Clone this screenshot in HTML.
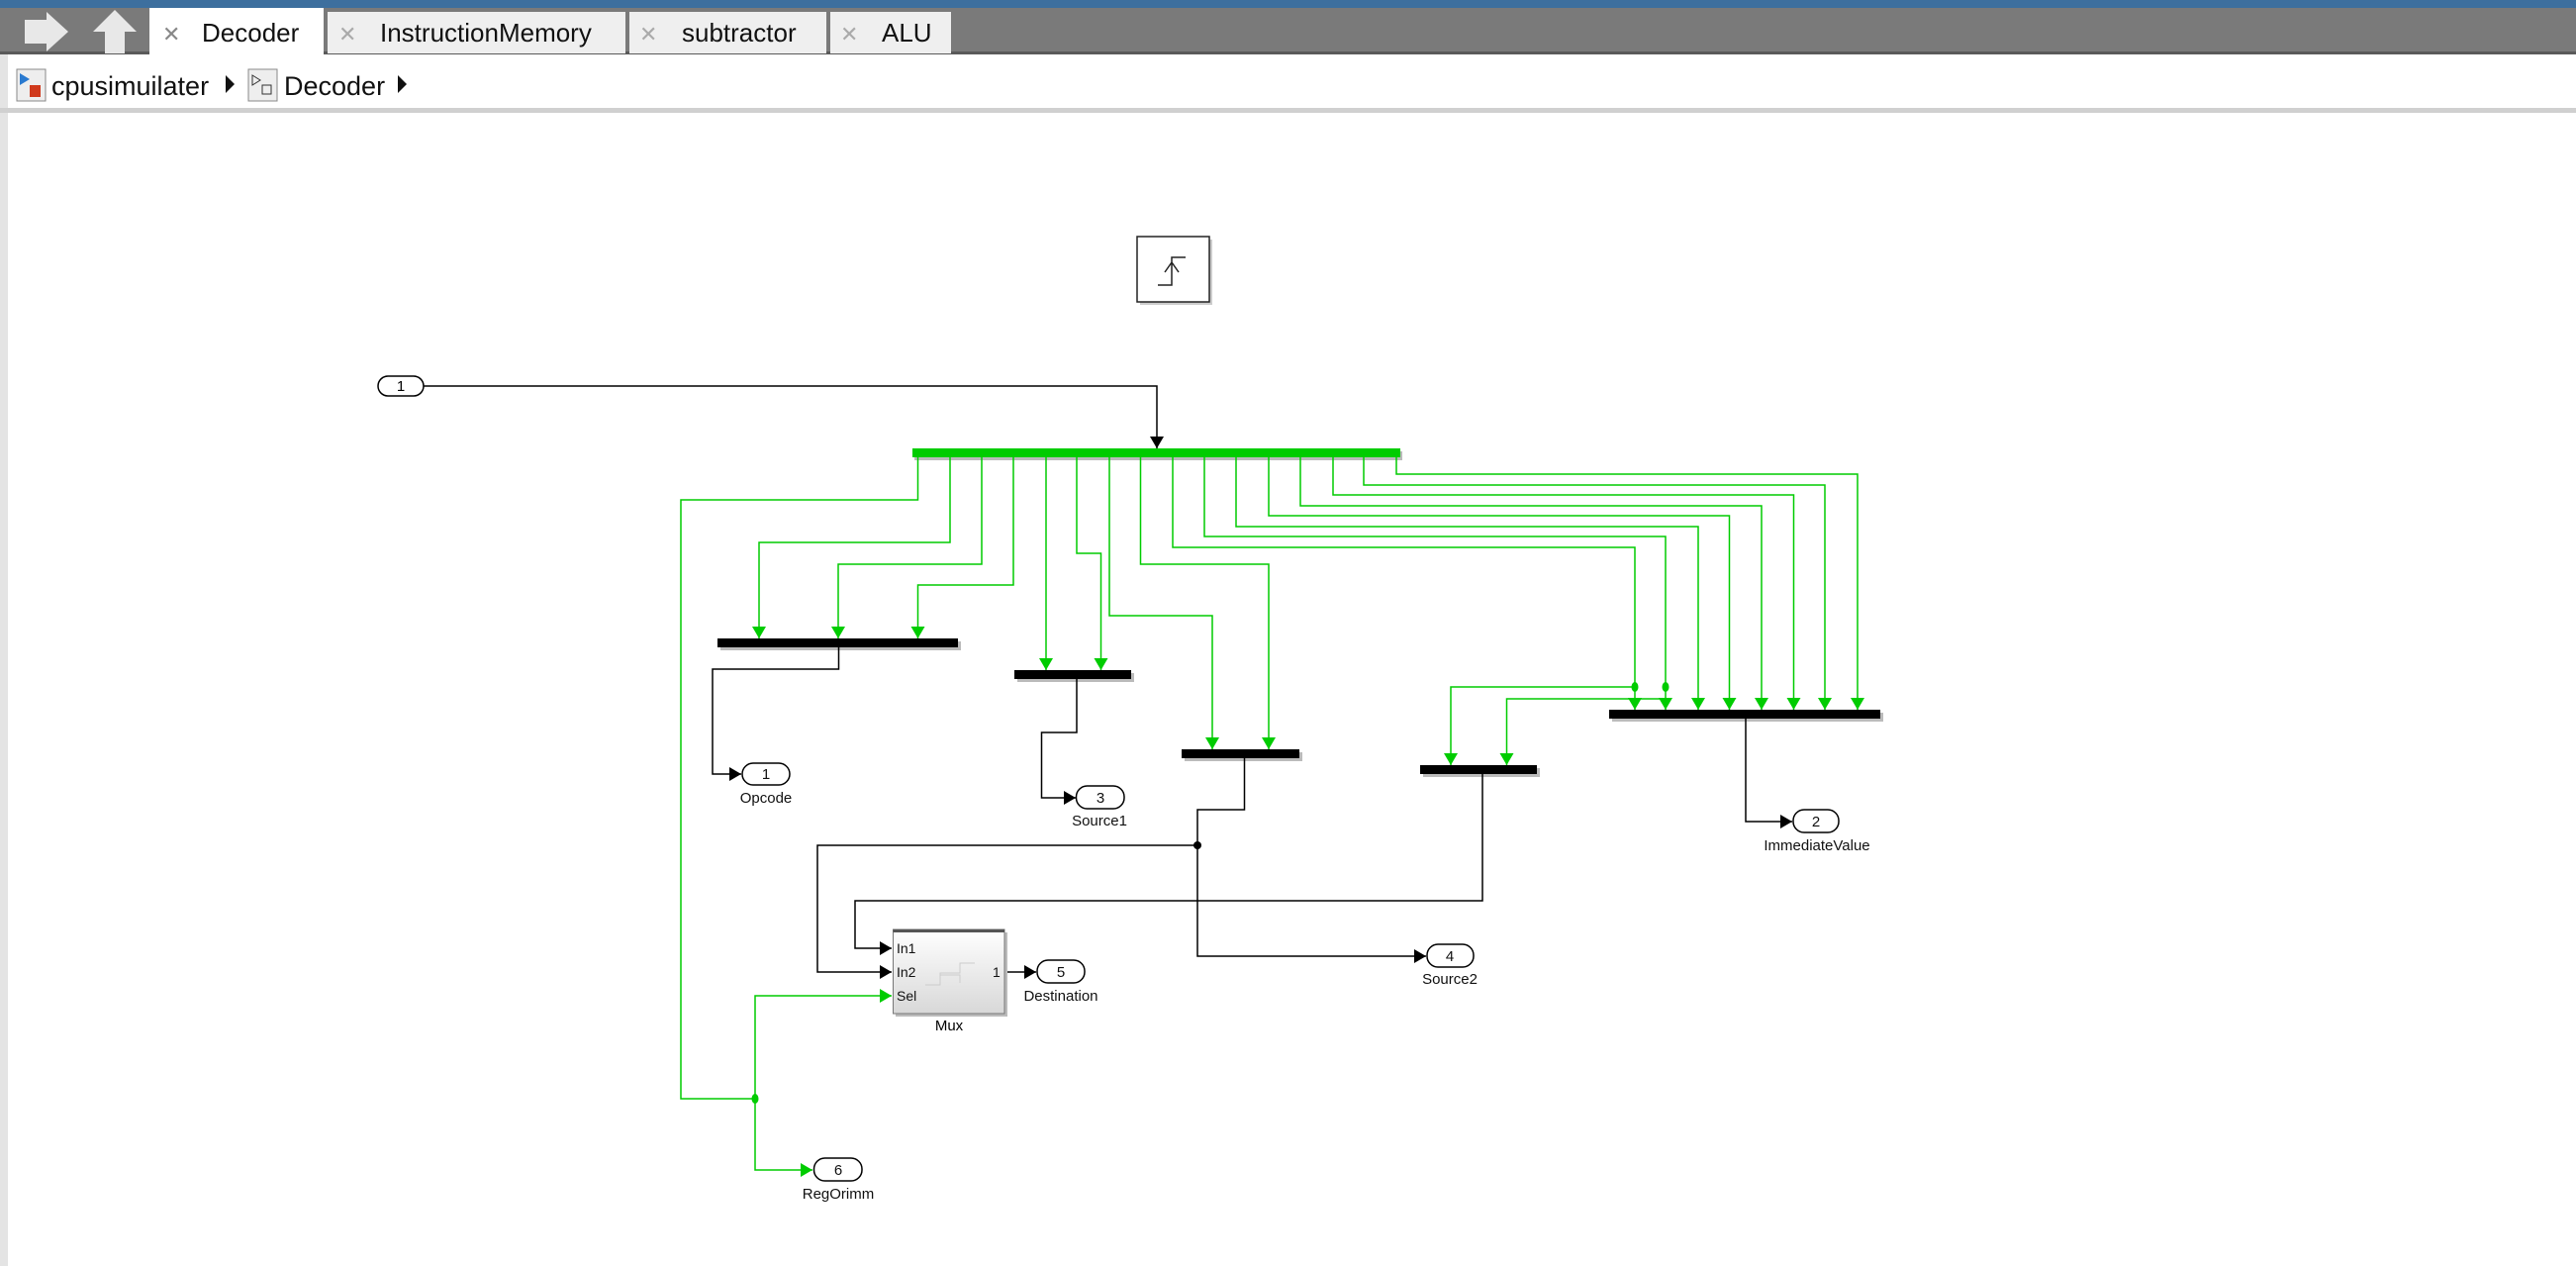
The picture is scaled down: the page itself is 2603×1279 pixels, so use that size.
<!DOCTYPE html>
<html><head><meta charset="utf-8"><style>
html,body{margin:0;padding:0;width:2603px;height:1279px;overflow:hidden;background:#fff;font-family:"Liberation Sans",sans-serif}
</style></head><body>
<svg width="2603" height="1279" viewBox="0 0 2603 1279" xmlns="http://www.w3.org/2000/svg" font-family="Liberation Sans, sans-serif">
<defs>
<marker id="ag" markerWidth="12" markerHeight="14" refX="12" refY="7" orient="auto" markerUnits="userSpaceOnUse"><path d="M0,0 L12,7 L0,14 z" fill="#00cc00"/></marker>
<marker id="ab" markerWidth="12" markerHeight="14" refX="12" refY="7" orient="auto" markerUnits="userSpaceOnUse"><path d="M0,0 L12,7 L0,14 z" fill="#000"/></marker>
<linearGradient id="mg" x1="0" y1="0" x2="0" y2="1"><stop offset="0" stop-color="#fff"/><stop offset="1" stop-color="#d8d8d8"/></linearGradient>
</defs>
<!-- header -->
<rect x="0" y="0" width="2603" height="8" fill="#3d6f9e"/>
<rect x="0" y="8" width="2603" height="47" fill="#7a7a7a"/>
<rect x="0" y="52" width="2603" height="3" fill="#5a5a5a"/>
<path d="M25,20 h22 v-8 l22,20 l-22,20 v-8 h-22z" fill="#e8e8e8"/>
<path d="M116,10 l22,22 h-12 v22 h-20 v-22 h-12z" fill="#e8e8e8"/>
<rect x="151" y="8" width="176" height="48" fill="#fff"/>
<rect x="331" y="12" width="301" height="42" fill="#efefef"/>
<rect x="636" y="12" width="199" height="42" fill="#efefef"/>
<rect x="839" y="12" width="122" height="42" fill="#efefef"/>
<g font-size="26" fill="#111">
<text x="164" y="42" fill="#888" font-size="22">✕</text><text x="204" y="42">Decoder</text>
<text x="342" y="42" fill="#aaa" font-size="22">✕</text><text x="384" y="42">InstructionMemory</text>
<text x="646" y="42" fill="#aaa" font-size="22">✕</text><text x="689" y="42">subtractor</text>
<text x="849" y="42" fill="#aaa" font-size="22">✕</text><text x="891" y="42">ALU</text>
</g>
<rect x="0" y="55" width="8" height="1224" fill="#e4e4e4"/>
<rect x="0" y="109" width="2603" height="5" fill="#d0d0d0"/>
<rect x="17" y="70" width="29" height="32" fill="#eee" stroke="#888"/>
<path d="M20,74 l10,6 l-10,6z" fill="#2a7ad0"/><rect x="30" y="86" width="11" height="12" fill="#d0391c"/>
<text x="52" y="96" font-size="27" fill="#111">cpusimuilater</text>
<path d="M228,76 l9,9 l-9,9z" fill="#111"/>
<rect x="251" y="70" width="29" height="32" fill="#eee" stroke="#888"/>
<path d="M255,76 l8,5 l-8,5z" fill="none" stroke="#333"/><rect x="265" y="86" width="9" height="9" fill="none" stroke="#333"/>
<text x="287" y="96" font-size="27" fill="#111">Decoder</text>
<path d="M402,76 l9,9 l-9,9z" fill="#111"/>

<!-- trigger block -->
<rect x="1152" y="242" width="73" height="66" fill="#ccc"/>
<rect x="1149" y="239" width="73" height="66" fill="#fff" stroke="#222" stroke-width="1.5"/>
<path d="M1170,288 h14 v-28 h14 M1177,275 l7,-10 l7,10" fill="none" stroke="#222" stroke-width="1.5"/>

<!-- inport 1 -->
<rect x="382" y="380" width="46" height="20" rx="10" fill="#fff" stroke="#000" stroke-width="1.5"/>
<text x="405" y="395" font-size="15" text-anchor="middle">1</text>
<path d="M428,390 H1169 V453" fill="none" stroke="#000" stroke-width="1.5" marker-end="url(#ab)"/>

<!-- green bus -->
<rect x="924" y="456" width="493" height="9" fill="#bbb"/>
<rect x="922" y="453" width="493" height="9" fill="#00cc00"/>

<g fill="none" stroke="#00cc00" stroke-width="1.5">
<path d="M927.5,462 V505 H688 V1110 H763"/>
<path d="M763,1110 V1006 H901" marker-end="url(#ag)"/>
<path d="M763,1110 V1182 H821" marker-end="url(#ag)"/>
<path d="M960,462 V548 H767 V645" marker-end="url(#ag)"/>
<path d="M992,462 V570 H847 V645" marker-end="url(#ag)"/>
<path d="M1024,462 V591 H927.5 V645" marker-end="url(#ag)"/>
<path d="M1057,462 V677" marker-end="url(#ag)"/>
<path d="M1088,462 V559 H1112.5 V677" marker-end="url(#ag)"/>
<path d="M1121,462 V622 H1225 V757" marker-end="url(#ag)"/>
<path d="M1152.5,462 V570 H1282 V757" marker-end="url(#ag)"/>
<path d="M1185,462 V553 H1652 V717" marker-end="url(#ag)"/>
<path d="M1217,462 V542 H1683 V717" marker-end="url(#ag)"/>
<path d="M1249,462 V532 H1716 V717" marker-end="url(#ag)"/>
<path d="M1282,462 V521 H1747.5 V717" marker-end="url(#ag)"/>
<path d="M1314,462 V511 H1780 V717" marker-end="url(#ag)"/>
<path d="M1347,462 V500 H1812.5 V717" marker-end="url(#ag)"/>
<path d="M1378,462 V490 H1844 V717" marker-end="url(#ag)"/>
<path d="M1411,462 V479 H1877 V717" marker-end="url(#ag)"/>
<path d="M1652,694 H1466 V773" marker-end="url(#ag)"/>
<path d="M1683,706 H1522.5 V773" marker-end="url(#ag)"/>
</g>
<g fill="#00cc00"><ellipse cx="1652" cy="694" rx="3.5" ry="5"/><ellipse cx="1683" cy="694" rx="3.5" ry="5"/><ellipse cx="763" cy="1110" rx="3.5" ry="5"/></g>

<!-- black bars -->
<g fill="#bbb">
<rect x="728" y="648" width="243" height="9"/><rect x="1028" y="680" width="118" height="9"/>
<rect x="1197" y="760" width="119" height="9"/><rect x="1438" y="776" width="118" height="9"/>
<rect x="1629" y="720" width="274" height="9"/></g>
<g fill="#000">
<rect x="725" y="645" width="243" height="9"/><rect x="1025" y="677" width="118" height="9"/>
<rect x="1194" y="757" width="119" height="9"/><rect x="1435" y="773" width="118" height="9"/>
<rect x="1626" y="717" width="274" height="9"/></g>

<g fill="none" stroke="#000" stroke-width="1.5">
<path d="M847.5,654 V676 H720 V782 H749" marker-end="url(#ab)"/>
<path d="M1088,686 V740 H1052.5 V806 H1087" marker-end="url(#ab)"/>
<path d="M1257.5,766 V818 H1210 V966 H1441" marker-end="url(#ab)"/>
<path d="M1210,854 H826 V982 H901" marker-end="url(#ab)"/>
<path d="M1498,782 V910 H864 V958 H901" marker-end="url(#ab)"/>
<path d="M1764,726 V830 H1811" marker-end="url(#ab)"/>
<path d="M1015,982 H1047" marker-end="url(#ab)"/>
</g>
<circle cx="1210" cy="854" r="4" fill="#000"/>

<!-- mux -->
<rect x="905" y="942" width="113" height="85" fill="#bbb"/>
<rect x="902.5" y="939" width="112.5" height="85" fill="url(#mg)" stroke="#777" stroke-width="1"/>
<rect x="902.5" y="939" width="112.5" height="3" fill="#555"/>
<g font-size="14" fill="#111"><text x="906" y="963">In1</text><text x="906" y="987">In2</text><text x="906" y="1011">Sel</text><text x="1003" y="987">1</text></g>
<path d="M935,995 h15 v-12 h20 v-10 h15 M950,985 h20 v8" fill="none" stroke="#ccc"/>
<text x="959" y="1041" font-size="15" text-anchor="middle">Mux</text>

<!-- outports -->
<g fill="#fff" stroke="#000" stroke-width="1.5">
<rect x="750" y="771" width="48" height="22" rx="11"/>
<rect x="1087.5" y="794" width="48.5" height="23" rx="11"/>
<rect x="1812" y="818" width="46" height="23" rx="11"/>
<rect x="1442" y="954" width="47" height="23" rx="11"/>
<rect x="1048" y="970" width="48" height="23" rx="11"/>
<rect x="822.5" y="1170" width="48.5" height="23" rx="11"/>
</g>
<g font-size="15" text-anchor="middle" fill="#111">
<text x="774" y="787">1</text><text x="774" y="811">Opcode</text>
<text x="1112" y="811">3</text><text x="1111" y="834">Source1</text>
<text x="1835" y="835">2</text><text x="1836" y="859">ImmediateValue</text>
<text x="1465" y="971">4</text><text x="1465" y="994">Source2</text>
<text x="1072" y="987">5</text><text x="1072" y="1011">Destination</text>
<text x="847" y="1187">6</text><text x="847" y="1211">RegOrimm</text>
</g>
</svg>
</body></html>
